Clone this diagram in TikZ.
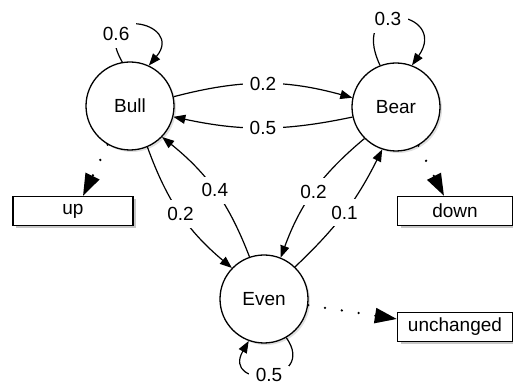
\documentclass[tikz,border=0pt]{standalone}
\usepackage{fontspec}
\setmainfont{Liberation Sans}
\usetikzlibrary{arrows.meta,shadows}
\tikzstyle{st}=[draw=black, fill=white, shape=circle, line width=1.3pt, minimum size=88pt, inner sep=0pt, drop shadow={shadow xshift=2pt, shadow yshift=-2pt, opacity=0.25}]
\tikzstyle{outbox}=[draw=black, fill=white, shape=rectangle, line width=1.3pt, minimum height=29pt, inner sep=2pt, drop shadow={shadow xshift=3pt, shadow yshift=-3pt, opacity=0.45}]
\tikzstyle{trans}=[-{Triangle[length=12pt,width=9pt]}, line width=1.2pt]
\tikzstyle{emit}=[-{Triangle[length=22pt,width=15pt]}, line width=2.6pt, line cap=round, dash pattern=on 0pt off 17pt]
\tikzstyle{lbl}=[fill=white, inner sep=7pt]

\begin{document}
\begin{tikzpicture}[x=1pt, y=1pt, font=\fontsize{19}{22}\selectfont]
    \useasboundingbox (0,0) rectangle (513,387);

    \node [st] (bull) at (130, 281) {Bull};
    \node [st] (bear) at (396, 280) {Bear};
    \node [st] (even) at (264, 88) {Even};

    \node [outbox, minimum width=120pt] (up) at (73, 176) {up};
    \node [outbox, minimum width=115pt] (down) at (455, 176) {down};
    \node [outbox, minimum width=115pt] (unch) at (455, 60) {unchanged};

    % transitions
    \draw [trans] (bull.12) to[bend left=15] node[lbl] {0.2} (bear.168);
    \draw [trans] (bear.193) to[bend left=12] node[lbl] {0.5} (bull.-14);
    \draw [trans] (bull.-67) to[bend right=15] node[lbl] {0.2} (even.136);
    \draw [trans] (even.109) to[bend right=15] node[lbl] {0.4} (bull.-44);
    \draw [trans] (bear.-135) to[bend right=15] node[lbl] {0.2} (even.68);
    \draw [trans] (even.46) to[bend right=10] node[lbl] {0.1} (bear.-108);

    % self loops
    \draw [trans] (bull.100) .. controls +(120:68) and +(50:58) .. (bull.65) node[lbl, pos=0.22] {0.6};
    \draw [trans] (bear.111) .. controls +(115:78) and +(55:66) .. (bear.69) node[lbl, pos=0.4] {0.3};
    \draw [trans] (even.-60) .. controls +(-55:56) and +(-120:56) .. (even.-110) node[lbl, pos=0.5, inner ysep=2pt] {0.5};

    % outputs
    \draw [emit] (bull.-120) -- ([xshift=10pt]up.north);
    \draw [emit] (bear.-60) -- ([xshift=-11pt]down.north);
    \draw [emit] (even.-8) -- ([yshift=8pt]unch.west);
\end{tikzpicture}
\end{document}
